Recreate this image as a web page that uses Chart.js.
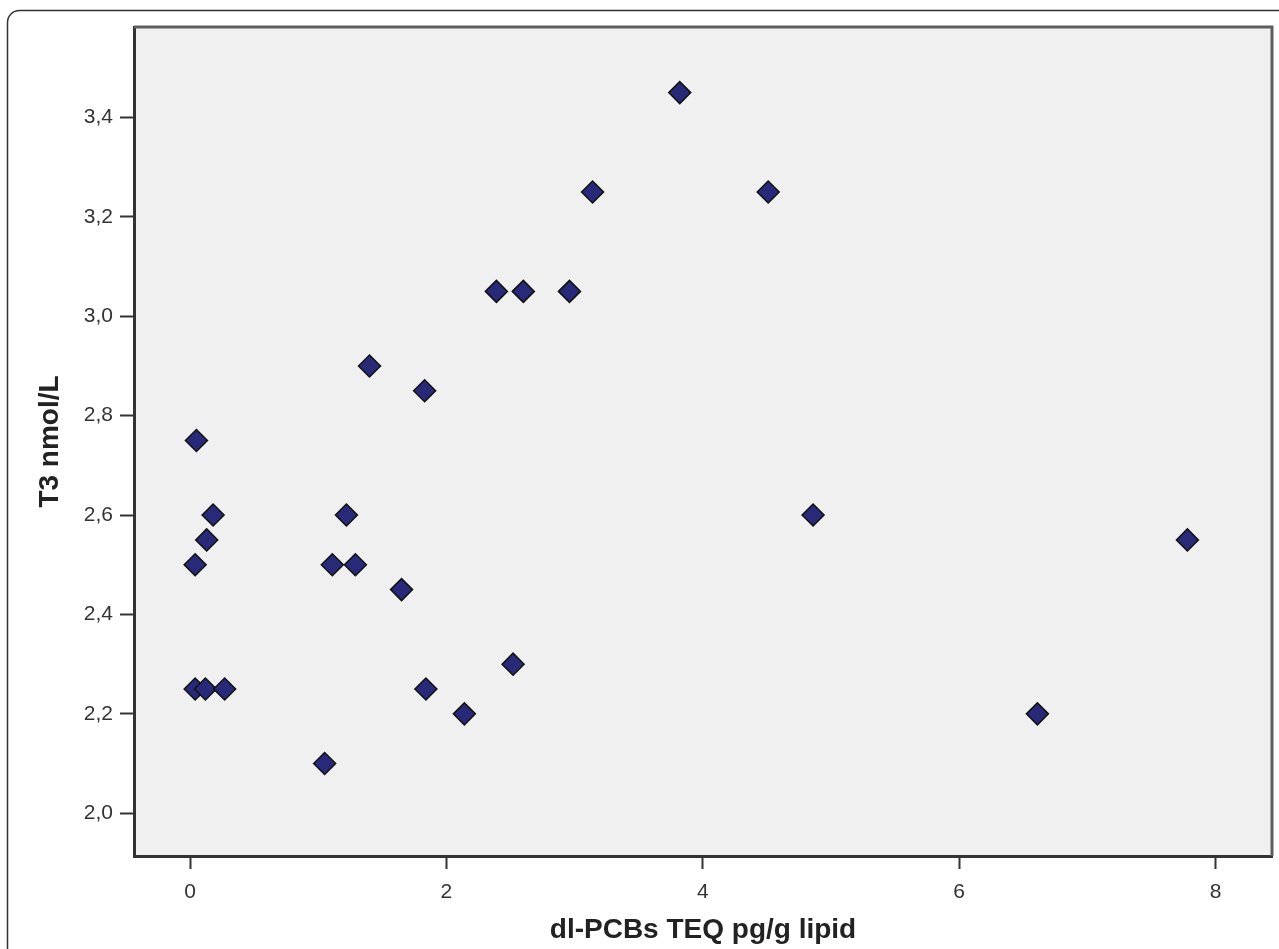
<!DOCTYPE html>
<html>
<head>
<meta charset="utf-8">
<style>
  html, body { margin: 0; padding: 0; background: #fff; overflow: hidden; }
  #wrap { width: 1279px; height: 949px; position: relative; }
  canvas { display: block; }
</style>
<script src="https://cdn.jsdelivr.net/npm/chart.js@4.4.1/dist/chart.umd.min.js"></script>
</head>
<body>
<div id="wrap"><canvas id="scatterChart"></canvas></div>
<script>
// values
const pcbTeq = [0.05, 0.04, 0.13, 0.18, 0.04, 0.12, 0.27, 1.05, 1.22, 1.11, 1.29, 1.40, 1.65, 1.83, 1.84, 2.14, 2.39, 2.52, 2.60, 2.96, 3.14, 3.82, 4.51, 4.86, 6.61, 7.78];
const t3Values = [2.75, 2.50, 2.55, 2.60, 2.25, 2.25, 2.25, 2.10, 2.60, 2.50, 2.50, 2.90, 2.45, 2.85, 2.25, 2.20, 3.05, 2.30, 3.05, 3.05, 3.25, 3.45, 3.25, 2.60, 2.20, 2.55];
const xTicks = [0, 2, 4, 6, 8];
const yTicks = [2.0, 2.2, 2.4, 2.6, 2.8, 3.0, 3.2, 3.4];

const points = pcbTeq.map((x, i) => ({ x: x, y: t3Values[i] }));

// grey plot background, light frame on top/right, rounded outer border
const framePlugin = {
    id: "frame",
    beforeDraw(chart) {
        const ctx = chart.ctx;
        const a = chart.chartArea;
        ctx.save();
        ctx.fillStyle = "#f0f0f0";
        ctx.fillRect(a.left, a.top, a.right - a.left, a.bottom - a.top);
        ctx.strokeStyle = "#333";
        ctx.lineWidth = 1.5;
        ctx.beginPath();
        ctx.roundRect(7.5, 10.5, 1300, 1000, 12);
        ctx.stroke();
        ctx.restore();
    },
    afterDatasetsDraw(chart) {
        const ctx = chart.ctx;
        const a = chart.chartArea;
        ctx.save();
        ctx.strokeStyle = "#5e5e5e";
        ctx.lineWidth = 3;
        ctx.beginPath();
        ctx.moveTo(a.left, a.top);
        ctx.lineTo(a.right, a.top);
        ctx.lineTo(a.right, a.bottom);
        ctx.stroke();
        ctx.restore();
    }
};

const tickFont = { family: "'Liberation Sans', Arial, sans-serif", size: 21 };
const titleFont = { family: "'Liberation Sans', Arial, sans-serif", size: 28, weight: "bold" };

new Chart(document.getElementById("scatterChart").getContext("2d"), {
    type: "scatter",
    data: {
        datasets: [{
            label: "T3",
            data: points,
            pointStyle: "rectRot",
            pointRadius: 11,
            pointHoverRadius: 11,
            backgroundColor: "#29297a",
            borderColor: "#111",
            borderWidth: 1.5
        }]
    },
    options: {
        responsive: true,
        maintainAspectRatio: false,
        animation: false,
        layout: { autoPadding: false, padding: { top: 27, right: 7, left: 0, bottom: 0 } },
        plugins: {
            legend: { display: false },
            tooltip: { enabled: false }
        },
        scales: {
            x: {
                type: "linear",
                min: -0.437,
                max: 8.44,
                afterBuildTicks: s => { s.ticks = xTicks.map(v => ({ value: v })); },
                afterFit: s => { s.height = 93; s.paddingLeft = 0; s.paddingRight = 0; },
                border: { display: true, color: "#333", width: 3 },
                grid: { drawOnChartArea: false, drawTicks: true, tickLength: 13, tickColor: "#333", tickWidth: 2 },
                ticks: { color: "#333", font: tickFont, padding: 11, maxRotation: 0 },
                title: { display: true, text: "dl-PCBs TEQ pg/g lipid", color: "#222", font: titleFont, padding: { top: 0, bottom: 2 } }
            },
            y: {
                type: "linear",
                min: 1.914,
                max: 3.582,
                afterBuildTicks: s => { s.ticks = yTicks.map(v => ({ value: v })); },
                afterFit: s => { s.width = 134; s.paddingTop = 0; s.paddingBottom = 0; },
                border: { display: true, color: "#333", width: 3 },
                grid: { drawOnChartArea: false, drawTicks: true, tickLength: 14, tickColor: "#333", tickWidth: 2 },
                ticks: {
                    color: "#333",
                    font: tickFont,
                    padding: 7,
                    callback: v => v.toFixed(1).replace(".", ",")
                },
                title: { display: true, text: "T3 nmol/L", color: "#222", font: titleFont, padding: { top: 33, bottom: 0 } }
            }
        }
    },
    plugins: [framePlugin]
});
</script>
</body>
</html>
